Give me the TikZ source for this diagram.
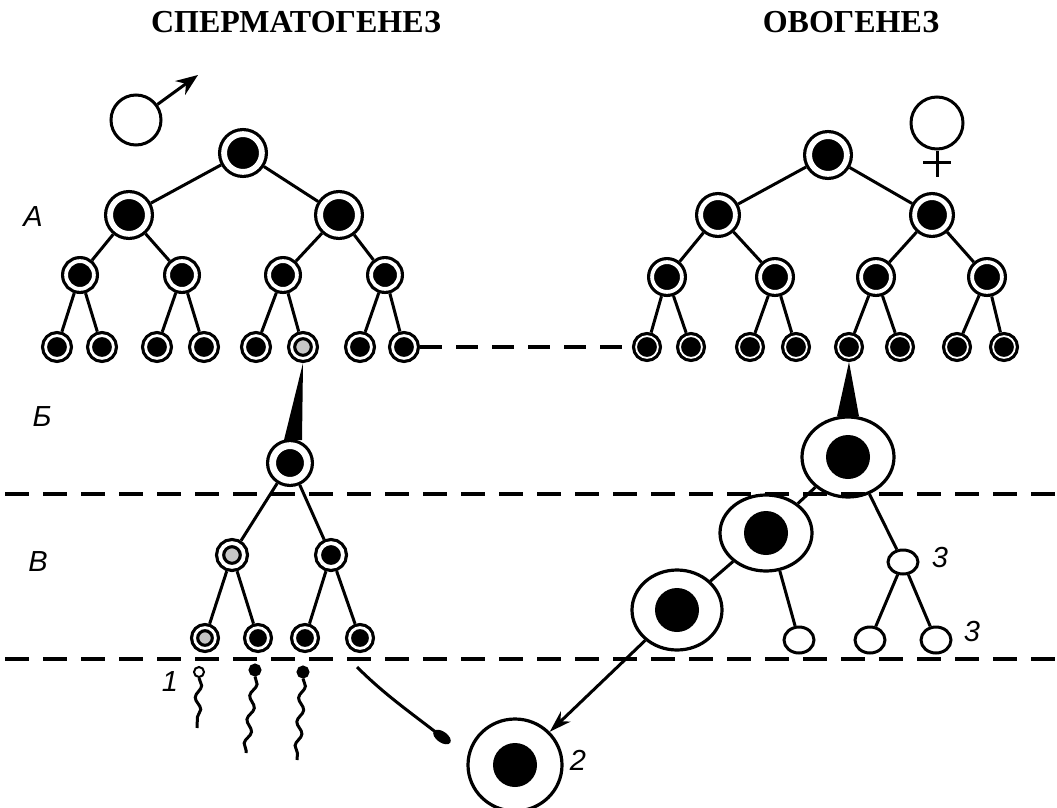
\documentclass[tikz,border=0pt]{standalone}
\usepackage{fontspec}
\newfontfamily\titlefont{Liberation Serif}
\newfontfamily\lblfont{Liberation Sans}
\usetikzlibrary{positioning, calc, arrows.meta, shapes.geometric, decorations.pathmorphing}
\tikzset{
    % ringed cell: #1 = outer radius, #2 = nucleus radius (pt)
    cell/.style 2 args={circle, draw, fill=black, line width=3.2pt, double=white,
        double distance={#1pt-#2pt-3.2pt}, minimum size={#1pt+#2pt-3.2pt},
        inner sep=0pt, outer sep={(#1pt-#2pt+3.2pt)/2}},
    pale/.style={fill=gray!45},
    bigcell/.style 2 args={ellipse, draw, fill=white, line width=3.2pt, minimum width=#1pt,
        minimum height=#2pt, inner sep=0pt},
    nucleus/.style={circle, fill=black, minimum size=44pt, inner sep=0pt},
    polar/.style 2 args={ellipse, draw, fill=white, line width=3pt, minimum width=#1pt,
        minimum height=#2pt, inner sep=0pt},
    link/.style={line width=3pt},
    sep/.style={line width=3.4pt, dash pattern=on 24pt off 14pt},
    head/.style={circle, draw, fill=black, line width=2pt, minimum size=11pt, inner sep=0pt},
    tail/.style={line width=3pt, decorate, decoration={snake, amplitude=3pt, segment length=24pt}},
    lbl/.style={font=\lblfont\itshape\fontsize{29}{29}\selectfont, inner sep=0pt},
    ttl/.style={font=\titlefont\bfseries\fontsize{32}{32}\selectfont, anchor=base, inner sep=0pt}
}

\begin{document}
\begin{tikzpicture}[x=1pt,y=-1pt]
    \useasboundingbox (0,0) rectangle (1057,808);
    \node[ttl] (T1) at (296,33){СПЕРМАТОГЕНЕЗ};
    \node[ttl] (T2) at (851,33){ОВОГЕНЕЗ};

    % sex symbols
    \node[circle, draw, line width=3pt, minimum size=50pt, inner sep=0pt] (msym) at (136,120){};
    \coordinate (mtip) at (198,75);
    \draw[link,-{Stealth[length=22pt,width=17pt]}] (msym) -- (mtip);
    \node[circle, draw, line width=3pt, minimum size=52pt, inner sep=0pt] (fsym) at (937,123){};
    \draw[link] (fsym.south) -- ++(0,26);
    \draw[link] ($(fsym.south)+(-14,12)$) -- ++(28,0);

    % stage labels
    \node[lbl] (LA) at (33,217){А};
    \node[lbl] (LB) at (42,417){Б};
    \node[lbl] (LC) at (38,562){В};

    % spermatogenesis
    \node[cell={25}{16}] (M0) at (243,153){};
    \node[cell={25}{16}] (M1) at (129,215){};
    \node[cell={25}{16}] (M2) at (339,215){};
    \node[cell={19}{12}] (M3) at (80,275){};
    \node[cell={19}{12}] (M4) at (182,275){};
    \node[cell={19}{12}] (M5) at (283,275){};
    \node[cell={19}{12}] (M6) at (385,275){};
    \node[cell={16}{10}] (M7) at (57,347){};
    \node[cell={16}{10}] (M8) at (102,347){};
    \node[cell={16}{10}] (M9) at (157,347){};
    \node[cell={16}{10}] (M10) at (204,347){};
    \node[cell={16}{10}] (M11) at (256,347){};
    \node[cell={16}{10},pale] (M12) at (303,347){};
    \node[cell={16}{10}] (M13) at (360,347){};
    \node[cell={16}{10}] (M14) at (404,347){};
    \draw[link] (M0)--(M1); \draw[link] (M0)--(M2);
    \draw[link] (M1)--(M3); \draw[link] (M1)--(M4);
    \draw[link] (M2)--(M5); \draw[link] (M2)--(M6);
    \draw[link] (M3)--(M7); \draw[link] (M3)--(M8);
    \draw[link] (M4)--(M9); \draw[link] (M4)--(M10);
    \draw[link] (M5)--(M11); \draw[link] (M5)--(M12);
    \draw[link] (M6)--(M13); \draw[link] (M6)--(M14);

    \node[cell={24}{14}] (Mp) at (290,463){};
    \fill (M12.south) -- ($(Mp.north)+(-6,1)$) -- ($(Mp.north)+(12,1)$) -- cycle;
    \node[cell={17}{10},pale] (Ms1) at (232,555){};
    \node[cell={17}{10}] (Ms2) at (331,555){};
    \node[cell={15}{9},pale] (Mt1) at (205,638){};
    \node[cell={15}{9}] (Mt2) at (258,638){};
    \node[cell={15}{9}] (Mt3) at (305,638){};
    \node[cell={15}{9}] (Mt4) at (360,638){};
    \draw[link] (Mp)--(Ms1); \draw[link] (Mp)--(Ms2);
    \draw[link] (Ms1)--(Mt1); \draw[link] (Ms1)--(Mt2);
    \draw[link] (Ms2)--(Mt3); \draw[link] (Ms2)--(Mt4);

    % sperm
    \node[lbl] (L1) at (170,682){1};
    \node[head, fill=white, minimum size=10pt] (s1) at (199,672){};
    \node[head] (s2) at (255,670){};
    \node[head] (s3) at (303,672){};
    \node[ellipse, fill=black, minimum width=20pt, minimum height=11pt, inner sep=0pt, rotate=-35] (s4) at (442,737){};
    \coordinate (e1) at (197,728);
    \coordinate (e2) at (246,753);
    \coordinate (e3) at (297,760);
    \coordinate (e4) at (357,667);
    \draw[tail] (s1.south) -- (e1);
    \draw[tail] (s2.south) -- (e2);
    \draw[tail] (s3.south) -- (e3);
    \draw[line width=3pt] (e4) .. controls (385,695) and (410,712) .. (s4.center);

    % oogenesis
    \node[cell={25}{16}] (F0) at (828,155){};
    \node[cell={23}{15}] (F1) at (718,215){};
    \node[cell={23}{15}] (F2) at (932,215){};
    \node[cell={20}{13}] (F3) at (667,277){};
    \node[cell={20}{13}] (F4) at (775,277){};
    \node[cell={20}{13}] (F5) at (876,277){};
    \node[cell={20}{13}] (F6) at (987,277){};
    \node[cell={15}{10}] (F7) at (647,347){};
    \node[cell={15}{10}] (F8) at (691,347){};
    \node[cell={15}{10}] (F9) at (750,347){};
    \node[cell={15}{10}] (F10) at (796,347){};
    \node[cell={15}{10}] (F11) at (849,347){};
    \node[cell={15}{10}] (F12) at (900,347){};
    \node[cell={15}{10}] (F13) at (957,347){};
    \node[cell={15}{10}] (F14) at (1004,347){};
    \draw[link] (F0)--(F1); \draw[link] (F0)--(F2);
    \draw[link] (F1)--(F3); \draw[link] (F1)--(F4);
    \draw[link] (F2)--(F5); \draw[link] (F2)--(F6);
    \draw[link] (F3)--(F7); \draw[link] (F3)--(F8);
    \draw[link] (F4)--(F9); \draw[link] (F4)--(F10);
    \draw[link] (F5)--(F11); \draw[link] (F5)--(F12);
    \draw[link] (F6)--(F13); \draw[link] (F6)--(F14);
    \draw[line width=3.4pt, dash pattern=on 22pt off 14pt] (M14) -- (F7);

    \node[bigcell={92}{80}] (Fp) at (848,457){};
    \node[nucleus] (Fpn) at (Fp){};
    \fill (F11.south) -- ($(Fp.north)+(-11,1)$) -- ($(Fp.north)+(11,1)$) -- cycle;
    \node[bigcell={92}{76}] (Fs) at (766,533){};
    \node[nucleus] (Fsn) at (Fs){};
    \node[bigcell={90}{80}] (Ft) at (677,610){};
    \node[nucleus] (Ftn) at (Ft){};
    \node[bigcell={94}{92}] (egg) at (515,765){};
    \node[nucleus] (eggn) at (egg){};
    \node[polar={30}{24}] (P1) at (903,562){};
    \node[polar={30}{26}] (P2) at (799,640){};
    \node[polar={30}{26}] (P3) at (870,640){};
    \node[polar={30}{26}] (P4) at (936,640){};
    \draw[link] (Fp)--(Fs); \draw[link] (Fs)--(Ft);
    \draw[link,-{Stealth[length=22pt,width=14pt]}] (Ft)--(egg);
    \draw[link] (Fp.-60)--(P1);
    \draw[link] (Fs.-70)--(P2);
    \draw[link] (P1)--(P3); \draw[link] (P1)--(P4);
    \node[lbl] (L2) at (578,760){2};
    \node[lbl] (L3a) at (940,558){3};
    \node[lbl] (L3b) at (972,632){3};

    % stage borders
    \draw[sep] (5,494) -- (1057,494);
    \draw[sep] (5,659) -- (1057,659);
\end{tikzpicture}
\end{document}
